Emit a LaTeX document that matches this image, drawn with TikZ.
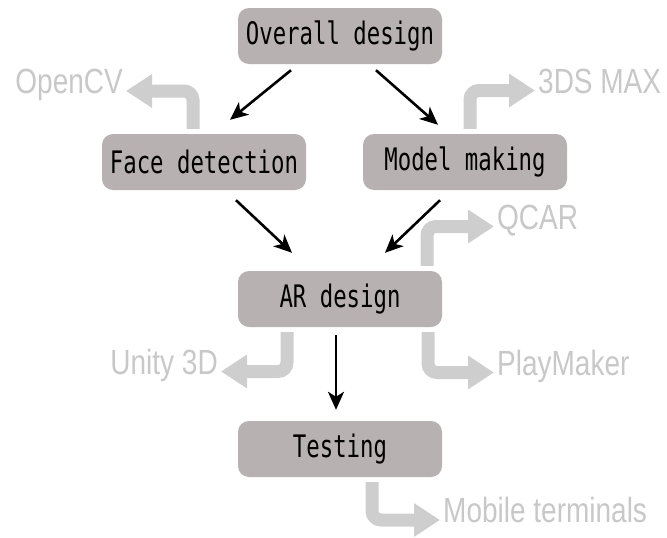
\documentclass[tikz,border=0pt]{standalone}
\usepackage{fontspec}
\setmainfont{Liberation Sans}
\newfontfamily\boxfont[FakeStretch=0.72]{DejaVu Sans Mono}
\newfontfamily\labfont[FakeStretch=0.8]{Liberation Sans}
\usetikzlibrary{arrows.meta,calc}
\definecolor{boxfill}{RGB}{183,177,177}
\definecolor{lightg}{RGB}{206,206,206}
\definecolor{labg}{RGB}{200,200,200}
\begin{document}
\begin{tikzpicture}[x=1pt,y=-1pt,
 box/.style={fill=boxfill, rounded corners=11pt, minimum width=204pt, minimum height=56pt, font=\boxfont\fontsize{31}{31}\selectfont, inner sep=0pt},
 lab/.style={text=labg, font=\labfont\fontsize{35}{35}\selectfont, inner sep=3pt},
 flow/.style={line width=2.6pt, -{Stealth[length=18pt,width=16pt,inset=5pt]}},
 side/.style={draw=lightg, line width=13pt, rounded corners=9pt, -{Triangle[length=26pt,width=32pt]}}]
\path[use as bounding box] (0,0) rectangle (667,538);
\node[box] (overall) at (340,36) {Overall design};
\node[box] (face) at (204,162) {Face detection};
\node[box] (model) at (465,162) {Model making};
\node[box] (ar) at (340,299) {AR design};
\node[box] (test) at (340,449) {Testing};
\node[lab, anchor=mid east] (opencv) at (126,91) {OpenCV};
\node[lab, anchor=mid west] (max) at (535,90.5) {3DS MAX};
\node[lab, anchor=mid west] (qcar) at (494,226.5) {QCAR};
\node[lab, anchor=mid east] (unity) at (221,371.5) {Unity 3D};
\node[lab, anchor=mid west] (play) at (494,372.5) {PlayMaker};
\node[lab, anchor=mid west] (mobile) at (440,520) {Mobile terminals};
\draw[flow] ($(overall.south)+(-49,6)$) -- ($(face.north)+(26,-14)$);
\draw[flow] ($(overall.south)+(36,6)$) -- ($(model.north)+(-27,-9)$);
\draw[flow] ($(face.south)+(32,10)$) -- ($(ar.north)+(-48,-18)$);
\draw[flow] ($(model.south)+(-25,10)$) -- ($(ar.north)+(45,-18)$);
\draw[flow] ($(ar.south)+(-4,8)$) -- ($(test.north)+(-4,-11)$);
\draw[side] ($(face.north)+(-11,-5)$) |- (opencv.mid east);
\draw[side] ($(model.north)+(5,-5)$) |- (max.mid west);
\draw[side] ($(ar.north)+(87,-5)$) |- (qcar.mid west);
\draw[side] ($(ar.south)+(-53,5)$) |- (unity.mid east);
\draw[side] ($(ar.south)+(88,5)$) |- (play.mid west);
\draw[side] ($(test.south)+(32,5)$) |- (mobile.mid west);
\end{tikzpicture}
\end{document}
